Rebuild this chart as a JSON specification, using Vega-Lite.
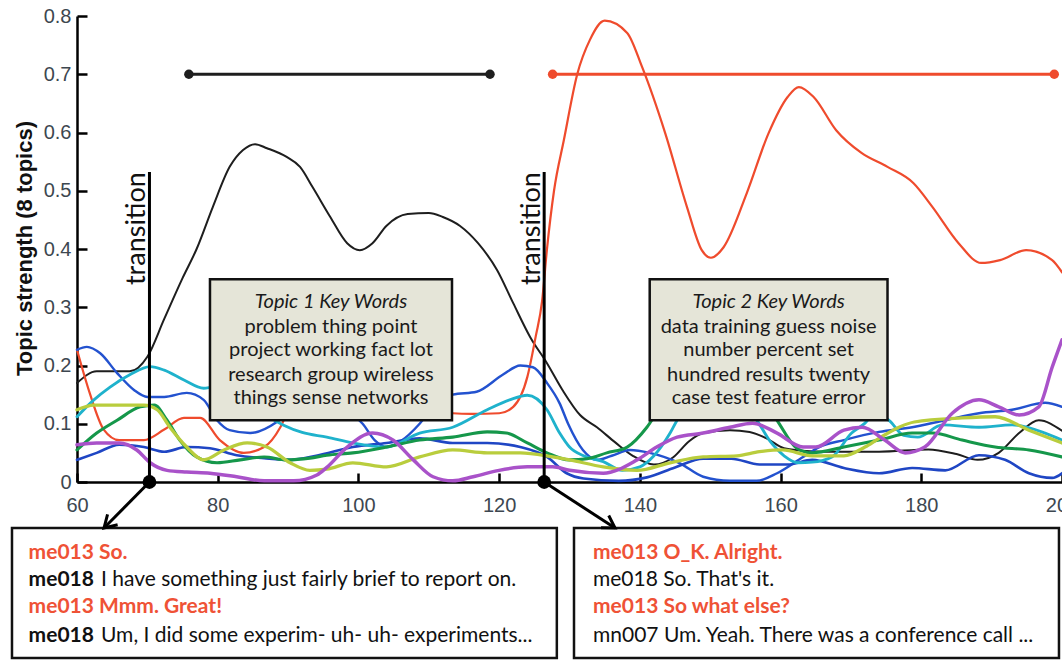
{
  "$schema": "https://vega.github.io/schema/vega-lite/v6.json",
  "width": 985,
  "height": 466,
  "autosize": {"type": "none"},
  "padding": {"left": 77, "top": 16, "right": 0, "bottom": 178},
  "background": "white",
  "config": {"view": {"stroke": null}},
  "datasets": {
    "topics": [
      {"t":"topic1","x":60,"y":0.17},{"t":"topic1","x":62.8,"y":0.19},{"t":"topic1","x":65,"y":0.19},{"t":"topic1","x":67.5,"y":0.19},{"t":"topic1","x":70,"y":0.215},{"t":"topic1","x":72.4,"y":0.28},{"t":"topic1","x":75,"y":0.35},{"t":"topic1","x":77,"y":0.4},{"t":"topic1","x":79.3,"y":0.472},{"t":"topic1","x":81.7,"y":0.541},{"t":"topic1","x":83.6,"y":0.57},{"t":"topic1","x":85.3,"y":0.58},{"t":"topic1","x":87,"y":0.573},{"t":"topic1","x":89.8,"y":0.558},{"t":"topic1","x":91.7,"y":0.541},{"t":"topic1","x":93.5,"y":0.506},{"t":"topic1","x":96,"y":0.455},{"t":"topic1","x":98.4,"y":0.41},{"t":"topic1","x":100.2,"y":0.398},{"t":"topic1","x":102,"y":0.41},{"t":"topic1","x":104,"y":0.44},{"t":"topic1","x":107,"y":0.46},{"t":"topic1","x":110,"y":0.462},{"t":"topic1","x":112,"y":0.455},{"t":"topic1","x":114.4,"y":0.44},{"t":"topic1","x":117,"y":0.41},{"t":"topic1","x":119.7,"y":0.364},{"t":"topic1","x":122,"y":0.307},{"t":"topic1","x":124.4,"y":0.249},{"t":"topic1","x":126.8,"y":0.204},{"t":"topic1","x":129,"y":0.158},{"t":"topic1","x":131.5,"y":0.115},{"t":"topic1","x":133.9,"y":0.094},{"t":"topic1","x":136.5,"y":0.068},{"t":"topic1","x":139,"y":0.045},{"t":"topic1","x":142,"y":0.03},{"t":"topic1","x":144.7,"y":0.042},{"t":"topic1","x":147,"y":0.07},{"t":"topic1","x":149,"y":0.084},{"t":"topic1","x":152.8,"y":0.089},{"t":"topic1","x":155.6,"y":0.086},{"t":"topic1","x":158,"y":0.075},{"t":"topic1","x":160.5,"y":0.058},{"t":"topic1","x":164.2,"y":0.053},{"t":"topic1","x":168,"y":0.052},{"t":"topic1","x":174,"y":0.052},{"t":"topic1","x":181,"y":0.056},{"t":"topic1","x":185,"y":0.048},{"t":"topic1","x":188,"y":0.038},{"t":"topic1","x":191,"y":0.05},{"t":"topic1","x":193.9,"y":0.084},{"t":"topic1","x":196.7,"y":0.106},{"t":"topic1","x":200,"y":0.088},

      {"t":"topic2","x":60,"y":0.227},{"t":"topic2","x":61.8,"y":0.153},{"t":"topic2","x":63.8,"y":0.09},{"t":"topic2","x":66,"y":0.072},{"t":"topic2","x":69.5,"y":0.072},{"t":"topic2","x":72.4,"y":0.09},{"t":"topic2","x":75.2,"y":0.11},{"t":"topic2","x":77.5,"y":0.11},{"t":"topic2","x":80.3,"y":0.072},{"t":"topic2","x":83.7,"y":0.05},{"t":"topic2","x":86.6,"y":0.06},{"t":"topic2","x":88.9,"y":0.094},{"t":"topic2","x":90.3,"y":0.13},{"t":"topic2","x":93,"y":0.17},{"t":"topic2","x":97,"y":0.2},{"t":"topic2","x":103,"y":0.18},{"t":"topic2","x":108,"y":0.14},{"t":"topic2","x":111,"y":0.122},{"t":"topic2","x":113.4,"y":0.118},{"t":"topic2","x":116,"y":0.117},{"t":"topic2","x":120,"y":0.118},{"t":"topic2","x":122,"y":0.129},{"t":"topic2","x":124,"y":0.18},{"t":"topic2","x":125.2,"y":0.25},{"t":"topic2","x":126.1,"y":0.31},{"t":"topic2","x":126.8,"y":0.4},{"t":"topic2","x":127.8,"y":0.5},{"t":"topic2","x":129.2,"y":0.587},{"t":"topic2","x":131.1,"y":0.7},{"t":"topic2","x":132.9,"y":0.759},{"t":"topic2","x":135,"y":0.792},{"t":"topic2","x":138.2,"y":0.771},{"t":"topic2","x":140.3,"y":0.713},{"t":"topic2","x":143.6,"y":0.599},{"t":"topic2","x":146.7,"y":0.472},{"t":"topic2","x":148.8,"y":0.398},{"t":"topic2","x":150.1,"y":0.385},{"t":"topic2","x":151.9,"y":0.403},{"t":"topic2","x":155.2,"y":0.496},{"t":"topic2","x":158.3,"y":0.599},{"t":"topic2","x":161,"y":0.661},{"t":"topic2","x":162.6,"y":0.678},{"t":"topic2","x":164.7,"y":0.661},{"t":"topic2","x":167.9,"y":0.604},{"t":"topic2","x":171.5,"y":0.565},{"t":"topic2","x":175.2,"y":0.541},{"t":"topic2","x":178.9,"y":0.513},{"t":"topic2","x":181.6,"y":0.472},{"t":"topic2","x":185.3,"y":0.41},{"t":"topic2","x":188.5,"y":0.376},{"t":"topic2","x":191.2,"y":0.381},{"t":"topic2","x":194.9,"y":0.398},{"t":"topic2","x":198.6,"y":0.381},{"t":"topic2","x":200,"y":0.36},

      {"t":"topic3","x":60,"y":0.227},{"t":"topic3","x":61.4,"y":0.232},{"t":"topic3","x":63.3,"y":0.221},{"t":"topic3","x":65.7,"y":0.187},{"t":"topic3","x":68.1,"y":0.158},{"t":"topic3","x":70,"y":0.146},{"t":"topic3","x":72.4,"y":0.146},{"t":"topic3","x":75.6,"y":0.153},{"t":"topic3","x":78,"y":0.141},{"t":"topic3","x":79.9,"y":0.106},{"t":"topic3","x":81.7,"y":0.089},{"t":"topic3","x":84.6,"y":0.084},{"t":"topic3","x":88.4,"y":0.103},{"t":"topic3","x":91,"y":0.13},{"t":"topic3","x":95,"y":0.14},{"t":"topic3","x":98,"y":0.125},{"t":"topic3","x":100.6,"y":0.1},{"t":"topic3","x":102.3,"y":0.072},{"t":"topic3","x":104,"y":0.06},{"t":"topic3","x":106,"y":0.07},{"t":"topic3","x":108.7,"y":0.1},{"t":"topic3","x":111,"y":0.135},{"t":"topic3","x":113.4,"y":0.15},{"t":"topic3","x":116.8,"y":0.155},{"t":"topic3","x":120.5,"y":0.184},{"t":"topic3","x":123,"y":0.2},{"t":"topic3","x":124.8,"y":0.197},{"t":"topic3","x":126.8,"y":0.17},{"t":"topic3","x":128.6,"y":0.135},{"t":"topic3","x":129.8,"y":0.1},{"t":"topic3","x":131.9,"y":0.055},{"t":"topic3","x":133.9,"y":0.038},{"t":"topic3","x":136,"y":0.045},{"t":"topic3","x":138.6,"y":0.055},{"t":"topic3","x":141.4,"y":0.05},{"t":"topic3","x":145.7,"y":0.032},{"t":"topic3","x":149,"y":0.009},{"t":"topic3","x":152.8,"y":0.002},{"t":"topic3","x":156.6,"y":0.002},{"t":"topic3","x":159.5,"y":0.015},{"t":"topic3","x":163.2,"y":0.043},{"t":"topic3","x":165.5,"y":0.06},{"t":"topic3","x":169,"y":0.072},{"t":"topic3","x":174,"y":0.086},{"t":"topic3","x":178.7,"y":0.094},{"t":"topic3","x":183.4,"y":0.106},{"t":"topic3","x":188.2,"y":0.118},{"t":"topic3","x":192.9,"y":0.124},{"t":"topic3","x":197.6,"y":0.136},{"t":"topic3","x":200,"y":0.129},

      {"t":"topic4","x":60,"y":0.038},{"t":"topic4","x":62.8,"y":0.05},{"t":"topic4","x":66,"y":0.064},{"t":"topic4","x":69.5,"y":0.06},{"t":"topic4","x":72.4,"y":0.052},{"t":"topic4","x":75.6,"y":0.06},{"t":"topic4","x":78.9,"y":0.058},{"t":"topic4","x":82.7,"y":0.046},{"t":"topic4","x":86.6,"y":0.041},{"t":"topic4","x":90.3,"y":0.038},{"t":"topic4","x":94,"y":0.045},{"t":"topic4","x":99.2,"y":0.06},{"t":"topic4","x":104,"y":0.067},{"t":"topic4","x":108.7,"y":0.075},{"t":"topic4","x":113.4,"y":0.067},{"t":"topic4","x":118.3,"y":0.067},{"t":"topic4","x":123,"y":0.06},{"t":"topic4","x":126.8,"y":0.043},{"t":"topic4","x":129.6,"y":0.015},{"t":"topic4","x":132,"y":0.006},{"t":"topic4","x":137,"y":0.002},{"t":"topic4","x":141,"y":0.008},{"t":"topic4","x":145,"y":0.025},{"t":"topic4","x":149,"y":0.04},{"t":"topic4","x":153,"y":0.04},{"t":"topic4","x":157,"y":0.03},{"t":"topic4","x":161,"y":0.03},{"t":"topic4","x":164.5,"y":0.038},{"t":"topic4","x":169,"y":0.024},{"t":"topic4","x":174,"y":0.015},{"t":"topic4","x":178.7,"y":0.024},{"t":"topic4","x":183.4,"y":0.02},{"t":"topic4","x":188.2,"y":0.046},{"t":"topic4","x":191.9,"y":0.038},{"t":"topic4","x":195.3,"y":0.015},{"t":"topic4","x":198.6,"y":0.007},{"t":"topic4","x":200,"y":0.015},

      {"t":"topic5","x":60,"y":0.112},{"t":"topic5","x":62.4,"y":0.141},{"t":"topic5","x":64.7,"y":0.163},{"t":"topic5","x":67.5,"y":0.184},{"t":"topic5","x":70.4,"y":0.198},{"t":"topic5","x":72.4,"y":0.192},{"t":"topic5","x":75.2,"y":0.175},{"t":"topic5","x":78,"y":0.161},{"t":"topic5","x":79.5,"y":0.163},{"t":"topic5","x":82,"y":0.16},{"t":"topic5","x":85,"y":0.13},{"t":"topic5","x":89.3,"y":0.098},{"t":"topic5","x":92,"y":0.085},{"t":"topic5","x":95.5,"y":0.077},{"t":"topic5","x":99.2,"y":0.067},{"t":"topic5","x":104,"y":0.06},{"t":"topic5","x":108.7,"y":0.084},{"t":"topic5","x":113.4,"y":0.094},{"t":"topic5","x":118.3,"y":0.124},{"t":"topic5","x":121.5,"y":0.141},{"t":"topic5","x":124,"y":0.149},{"t":"topic5","x":126.8,"y":0.124},{"t":"topic5","x":128.6,"y":0.084},{"t":"topic5","x":130,"y":0.06},{"t":"topic5","x":132,"y":0.045},{"t":"topic5","x":134.8,"y":0.035},{"t":"topic5","x":137.5,"y":0.02},{"t":"topic5","x":140,"y":0.026},{"t":"topic5","x":142,"y":0.045},{"t":"topic5","x":144.3,"y":0.084},{"t":"topic5","x":145.3,"y":0.106},{"t":"topic5","x":148,"y":0.14},{"t":"topic5","x":152,"y":0.15},{"t":"topic5","x":155.5,"y":0.12},{"t":"topic5","x":156.6,"y":0.106},{"t":"topic5","x":158.5,"y":0.07},{"t":"topic5","x":160.5,"y":0.045},{"t":"topic5","x":162.5,"y":0.033},{"t":"topic5","x":164.5,"y":0.034},{"t":"topic5","x":167.3,"y":0.043},{"t":"topic5","x":170.1,"y":0.084},{"t":"topic5","x":172,"y":0.101},{"t":"topic5","x":173.5,"y":0.12},{"t":"topic5","x":175.5,"y":0.105},{"t":"topic5","x":177.5,"y":0.08},{"t":"topic5","x":179.5,"y":0.077},{"t":"topic5","x":183,"y":0.098},{"t":"topic5","x":188.2,"y":0.094},{"t":"topic5","x":192.9,"y":0.098},{"t":"topic5","x":197.6,"y":0.084},{"t":"topic5","x":200,"y":0.072},

      {"t":"topic6","x":60,"y":0.055},{"t":"topic6","x":62.8,"y":0.084},{"t":"topic6","x":65.7,"y":0.106},{"t":"topic6","x":69,"y":0.129},{"t":"topic6","x":71,"y":0.132},{"t":"topic6","x":72.8,"y":0.106},{"t":"topic6","x":74.6,"y":0.072},{"t":"topic6","x":77,"y":0.043},{"t":"topic6","x":79.9,"y":0.033},{"t":"topic6","x":83.2,"y":0.038},{"t":"topic6","x":86.6,"y":0.043},{"t":"topic6","x":89.8,"y":0.038},{"t":"topic6","x":93.1,"y":0.041},{"t":"topic6","x":95.5,"y":0.046},{"t":"topic6","x":99.2,"y":0.05},{"t":"topic6","x":104,"y":0.06},{"t":"topic6","x":108.7,"y":0.072},{"t":"topic6","x":113.4,"y":0.077},{"t":"topic6","x":118.3,"y":0.086},{"t":"topic6","x":121,"y":0.084},{"t":"topic6","x":124,"y":0.067},{"t":"topic6","x":126.8,"y":0.05},{"t":"topic6","x":130,"y":0.038},{"t":"topic6","x":132.5,"y":0.04},{"t":"topic6","x":135.3,"y":0.05},{"t":"topic6","x":138.2,"y":0.06},{"t":"topic6","x":141,"y":0.094},{"t":"topic6","x":143,"y":0.13},{"t":"topic6","x":150,"y":0.2},{"t":"topic6","x":157,"y":0.15},{"t":"topic6","x":159.5,"y":0.106},{"t":"topic6","x":162.3,"y":0.058},{"t":"topic6","x":164.5,"y":0.05},{"t":"topic6","x":169,"y":0.06},{"t":"topic6","x":174,"y":0.072},{"t":"topic6","x":178.7,"y":0.084},{"t":"topic6","x":181.6,"y":0.084},{"t":"topic6","x":185.8,"y":0.072},{"t":"topic6","x":190.5,"y":0.06},{"t":"topic6","x":195.3,"y":0.055},{"t":"topic6","x":200,"y":0.043},

      {"t":"topic7","x":60,"y":0.124},{"t":"topic7","x":62.4,"y":0.132},{"t":"topic7","x":65.7,"y":0.132},{"t":"topic7","x":69.5,"y":0.132},{"t":"topic7","x":71.4,"y":0.124},{"t":"topic7","x":73.2,"y":0.094},{"t":"topic7","x":75.6,"y":0.06},{"t":"topic7","x":78,"y":0.038},{"t":"topic7","x":80.9,"y":0.055},{"t":"topic7","x":84.2,"y":0.067},{"t":"topic7","x":87,"y":0.06},{"t":"topic7","x":90.3,"y":0.033},{"t":"topic7","x":93.1,"y":0.02},{"t":"topic7","x":95.5,"y":0.022},{"t":"topic7","x":99.2,"y":0.033},{"t":"topic7","x":104,"y":0.026},{"t":"topic7","x":108.7,"y":0.043},{"t":"topic7","x":113.4,"y":0.055},{"t":"topic7","x":118.3,"y":0.05},{"t":"topic7","x":123,"y":0.05},{"t":"topic7","x":127.6,"y":0.043},{"t":"topic7","x":130,"y":0.038},{"t":"topic7","x":134.8,"y":0.026},{"t":"topic7","x":139.6,"y":0.02},{"t":"topic7","x":144.3,"y":0.033},{"t":"topic7","x":149,"y":0.043},{"t":"topic7","x":153.8,"y":0.045},{"t":"topic7","x":157,"y":0.052},{"t":"topic7","x":160.3,"y":0.055},{"t":"topic7","x":164.5,"y":0.045},{"t":"topic7","x":169,"y":0.045},{"t":"topic7","x":172,"y":0.06},{"t":"topic7","x":174,"y":0.075},{"t":"topic7","x":177,"y":0.095},{"t":"topic7","x":179,"y":0.103},{"t":"topic7","x":185.8,"y":0.11},{"t":"topic7","x":190.5,"y":0.112},{"t":"topic7","x":195.3,"y":0.089},{"t":"topic7","x":200,"y":0.067},

      {"t":"topic8","x":60,"y":0.064},{"t":"topic8","x":62.8,"y":0.067},{"t":"topic8","x":66,"y":0.067},{"t":"topic8","x":68.5,"y":0.055},{"t":"topic8","x":70.4,"y":0.033},{"t":"topic8","x":72.8,"y":0.02},{"t":"topic8","x":75.6,"y":0.017},{"t":"topic8","x":78.9,"y":0.015},{"t":"topic8","x":82.7,"y":0.009},{"t":"topic8","x":86.6,"y":0.002},{"t":"topic8","x":90.8,"y":0.002},{"t":"topic8","x":94.1,"y":0.012},{"t":"topic8","x":95.5,"y":0.025},{"t":"topic8","x":98.4,"y":0.06},{"t":"topic8","x":102,"y":0.084},{"t":"topic8","x":104.9,"y":0.072},{"t":"topic8","x":107.8,"y":0.038},{"t":"topic8","x":110.6,"y":0.009},{"t":"topic8","x":113.4,"y":0.002},{"t":"topic8","x":116.3,"y":0.009},{"t":"topic8","x":120,"y":0.02},{"t":"topic8","x":124,"y":0.026},{"t":"topic8","x":127.6,"y":0.026},{"t":"topic8","x":130,"y":0.02},{"t":"topic8","x":134.8,"y":0.015},{"t":"topic8","x":139.6,"y":0.038},{"t":"topic8","x":142.4,"y":0.06},{"t":"topic8","x":145.3,"y":0.077},{"t":"topic8","x":149,"y":0.084},{"t":"topic8","x":152.8,"y":0.094},{"t":"topic8","x":156,"y":0.101},{"t":"topic8","x":159.5,"y":0.084},{"t":"topic8","x":163.2,"y":0.06},{"t":"topic8","x":165,"y":0.06},{"t":"topic8","x":169,"y":0.089},{"t":"topic8","x":171.6,"y":0.094},{"t":"topic8","x":174.8,"y":0.072},{"t":"topic8","x":177.7,"y":0.05},{"t":"topic8","x":180.5,"y":0.06},{"t":"topic8","x":184.4,"y":0.118},{"t":"topic8","x":188.2,"y":0.141},{"t":"topic8","x":191,"y":0.129},{"t":"topic8","x":193.9,"y":0.115},{"t":"topic8","x":196.7,"y":0.129},{"t":"topic8","x":198.6,"y":0.197},{"t":"topic8","x":200,"y":0.244}
    ],
    "segments": [
      {"t":"topic1","x":75.9,"x2":118.7,"y":0.7},
      {"t":"topic2","x":127.6,"x2":198.9,"y":0.7}
    ],
    "segdots": [
      {"t":"topic1","x":75.9,"y":0.7},{"t":"topic1","x":118.7,"y":0.7},
      {"t":"topic2","x":127.6,"y":0.7},{"t":"topic2","x":198.9,"y":0.7}
    ],
    "transitions": [
      {"x":70.3,"y":0,"y2":0.532,"label":"transition"},
      {"x":126.4,"y":0,"y2":0.532,"label":"transition"}
    ],
    "kwboxes": [
      {"x":78.9,"x2":113.3,"y":0.348,"y2":0.106},
      {"x":141.4,"x2":175.2,"y":0.348,"y2":0.106}
    ],
    "kwtitle": [
      {"x":96.1,"y":0.309,"text":"Topic 1 Key Words"},
      {"x":158.3,"y":0.309,"text":"Topic 2 Key Words"}
    ],
    "kwtext": [
      {"x":96.1,"y":0.266,"text":"problem thing point"},
      {"x":96.1,"y":0.2266,"text":"project working fact lot"},
      {"x":96.1,"y":0.1837,"text":"research group wireless"},
      {"x":96.1,"y":0.1442,"text":"things sense networks"},
      {"x":158.3,"y":0.266,"text":"data training guess noise"},
      {"x":158.3,"y":0.2266,"text":"number percent set"},
      {"x":158.3,"y":0.1837,"text":"hundred results twenty"},
      {"x":158.3,"y":0.1442,"text":"case test feature error"}
    ],
    "dialogboxes": [
      {"x":50.76,"x2":128.2,"y":-0.079,"y2":-0.302},
      {"x":130.64,"x2":199.57,"y":-0.079,"y2":-0.302}
    ],
    "arrows": [
      {"id":"a","x":70.3,"y":0,"x2":63.84,"y2":-0.079},
      {"id":"b","x":126.4,"y":0,"x2":136.47,"y2":-0.079}
    ],
    "redlines": [
      {"x":53.12,"y":-0.1219,"text":"me013 So."},
      {"x":53.12,"y":-0.2146,"text":"me013 Mmm. Great!"},
      {"x":133.34,"y":-0.1219,"text":"me013 O_K. Alright."},
      {"x":133.34,"y":-0.2146,"text":"me013 So what else?"}
    ],
    "boldspk": [
      {"x":53.12,"y":-0.1682,"text":"me018"},
      {"x":53.12,"y":-0.2644,"text":"me018"}
    ],
    "plainlines": [
      {"x":63.41,"y":-0.1682,"text":"I have something just fairly brief to report on."},
      {"x":63.41,"y":-0.2644,"text":"Um, I did some experim- uh- uh- experiments..."},
      {"x":133.34,"y":-0.1682,"text":"me018 So. That's it."},
      {"x":133.34,"y":-0.2644,"text":"mn007 Um. Yeah. There was a conference call ..."}
    ]
  },
  "encoding": {
    "x": {"field": "x", "type": "quantitative",
          "scale": {"domain": [60, 200], "nice": false, "zero": false},
          "axis": {"title": null, "values": [60,80,100,120,140,160,180,200], "grid": false,
                   "domainColor": "#000", "domainWidth": 2.5, "tickColor": "#000", "tickWidth": 2.5,
                   "tickSize": -9, "labelPadding": 22, "labelFont": "Liberation Sans", "labelFontSize": 20,
                   "labelColor": "#3d4750", "labelFlush": false, "labelOverlap": false}},
    "y": {"field": "y", "type": "quantitative",
          "scale": {"domain": [0, 0.8], "nice": false, "zero": false},
          "axis": {"title": "Topic strength (8 topics)", "values": [0,0.1,0.2,0.3,0.4,0.5,0.6,0.7,0.8],
                   "labelExpr": "datum.value == 0 ? '0' : format(datum.value, '.1f')", "grid": false,
                   "domainColor": "#000", "domainWidth": 2.5, "tickColor": "#000", "tickWidth": 2.5,
                   "tickSize": -10, "labelPadding": 16, "labelFont": "Liberation Sans", "labelFontSize": 20,
                   "labelColor": "#3d4750", "labelOverlap": false,
                   "titleFont": "Liberation Sans", "titleFontSize": 22, "titleFontWeight": "bold", "titleColor": "#111",
                   "titleX": -46, "titleY": 232, "titleAngle": 270, "titleAlign": "center", "titleBaseline": "alphabetic"}}
  },
  "layer": [
    {
      "data": {"name": "topics"},
      "mark": {"type": "line", "interpolate": "monotone", "strokeCap": "round"},
      "encoding": {
        "color": {"field": "t", "type": "nominal", "legend": null,
                  "scale": {"domain": ["topic1","topic2","topic3","topic4","topic5","topic6","topic7","topic8"],
                            "range": ["#1e1e1e","#ef4b2d","#2352cf","#1f46c4","#1fb2cc","#15974a","#b9cd3d","#a952c9"]}},
        "strokeWidth": {"field": "t", "type": "nominal", "legend": null,
                  "scale": {"domain": ["topic1","topic2","topic3","topic4","topic5","topic6","topic7","topic8"],
                            "range": [2, 3.5, 3.2, 3.2, 2.6, 3, 3, 3]}}
      }
    },
    {
      "data": {"name": "kwboxes"},
      "mark": {"type": "rect", "fill": "#e5e5d8", "stroke": "#111", "strokeWidth": 2.5},
      "encoding": {"x2": {"field": "x2"}, "y2": {"field": "y2"}}
    },
    {
      "data": {"name": "kwtitle"},
      "mark": {"type": "text", "font": "Lato", "fontSize": 20, "fontStyle": "italic", "color": "#1a1a1a", "align": "center", "baseline": "middle"},
      "encoding": {"text": {"field": "text"}}
    },
    {
      "data": {"name": "kwtext"},
      "mark": {"type": "text", "font": "Lato", "fontSize": 20, "color": "#1a1a1a", "align": "center", "baseline": "middle"},
      "encoding": {"text": {"field": "text"}}
    },
    {
      "data": {"name": "segments"},
      "mark": {"type": "rule", "strokeWidth": 3},
      "encoding": {"x2": {"field": "x2"}, "color": {"field": "t", "type": "nominal", "legend": null}}
    },
    {
      "data": {"name": "segdots"},
      "mark": {"type": "point", "filled": true, "size": 90, "opacity": 1},
      "encoding": {"color": {"field": "t", "type": "nominal", "legend": null}}
    },
    {
      "data": {"name": "transitions"},
      "mark": {"type": "rule", "strokeWidth": 3, "color": "#000"},
      "encoding": {"y2": {"field": "y2"}}
    },
    {
      "data": {"name": "transitions"},
      "mark": {"type": "point", "filled": true, "size": 190, "color": "#000", "opacity": 1},
      "encoding": {}
    },
    {
      "data": {"name": "transitions"},
      "mark": {"type": "text", "font": "Lato", "fontSize": 27, "color": "#111", "angle": 270, "align": "right", "baseline": "alphabetic", "dy": -4},
      "encoding": {
        "y": {"field": "y2", "type": "quantitative"},
        "text": {"field": "label"}
      }
    },
    {
      "data": {"name": "dialogboxes"},
      "mark": {"type": "rect", "fill": "#ffffff", "stroke": "#111", "strokeWidth": 2.5},
      "encoding": {"x2": {"field": "x2"}, "y2": {"field": "y2"}}
    },
    {
      "data": {"name": "arrows"},
      "mark": {"type": "rule", "strokeWidth": 3, "color": "#000"},
      "encoding": {"x2": {"field": "x2"}, "y2": {"field": "y2"}}
    },
    {
      "data": {"name": "arrows"},
      "transform": [{"filter": "datum.id == 'a'"}],
      "mark": {"type": "point", "shape": "M-0.6,-1L0,0L0.6,-1", "filled": false, "size": 576, "stroke": "#000", "strokeWidth": 3, "angle": 45.6, "opacity": 1},
      "encoding": {
        "x": {"field": "x2", "type": "quantitative"},
        "y": {"field": "y2", "type": "quantitative"}
      }
    },
    {
      "data": {"name": "arrows"},
      "transform": [{"filter": "datum.id == 'b'"}],
      "mark": {"type": "point", "shape": "M-0.6,-1L0,0L0.6,-1", "filled": false, "size": 576, "stroke": "#000", "strokeWidth": 3, "angle": 302.3, "opacity": 1},
      "encoding": {
        "x": {"field": "x2", "type": "quantitative"},
        "y": {"field": "y2", "type": "quantitative"}
      }
    },
    {
      "data": {"name": "redlines"},
      "mark": {"type": "text", "font": "Lato", "fontSize": 21, "fontWeight": "bold", "color": "#ef5236", "align": "left", "baseline": "middle"},
      "encoding": {"text": {"field": "text"}}
    },
    {
      "data": {"name": "boldspk"},
      "mark": {"type": "text", "font": "Lato", "fontSize": 21, "fontWeight": "bold", "color": "#111", "align": "left", "baseline": "middle"},
      "encoding": {"text": {"field": "text"}}
    },
    {
      "data": {"name": "plainlines"},
      "mark": {"type": "text", "font": "Lato", "fontSize": 21, "color": "#111", "align": "left", "baseline": "middle"},
      "encoding": {"text": {"field": "text"}}
    }
  ]
}
